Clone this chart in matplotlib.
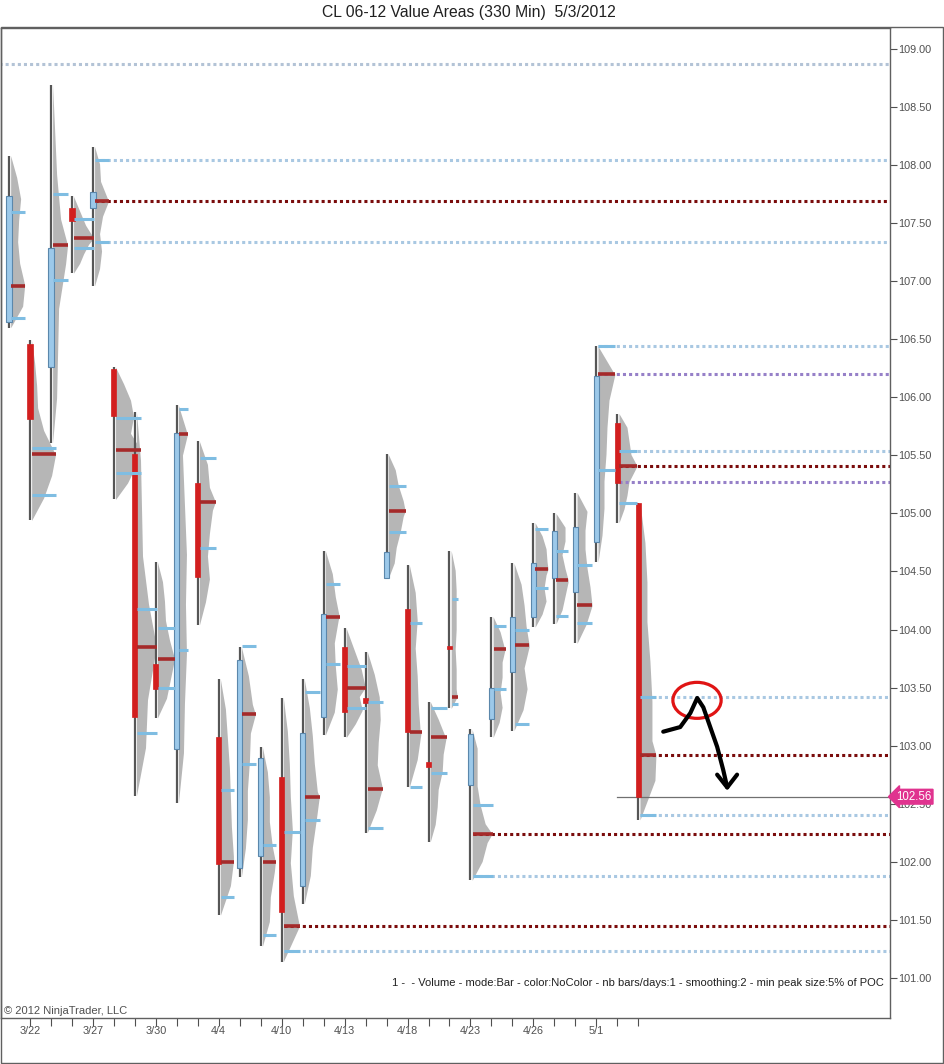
import numpy as np
import matplotlib
matplotlib.use("Agg")
import matplotlib.pyplot as plt
from matplotlib.patches import Ellipse, Rectangle
import matplotlib.transforms as mtransforms

plt.rcParams['font.family'] = ['Liberation Sans', 'DejaVu Sans']

# one 330-min "day" per bar
dates = ['3/21', '3/22', '3/23', '3/26', '3/27', '3/28', '3/29', '3/30', '4/2', '4/3',
         '4/4', '4/5', '4/9', '4/10', '4/11', '4/12', '4/13', '4/16', '4/17', '4/18',
         '4/19', '4/20', '4/23', '4/24', '4/25', '4/26', '4/27', '4/30', '5/1', '5/2', '5/3']

highs = [108.08, 106.49, 108.69, 107.73, 108.16, 106.26, 105.87, 104.58, 105.93, 105.62,
         103.57, 103.85, 102.99, 103.41, 103.57, 104.68, 104.01, 103.81, 105.51, 104.56,
         103.38, 104.68, 103.14, 104.11, 104.57, 104.92, 105.00, 105.18, 106.44, 105.86, 105.09]
lows = [106.60, 104.94, 105.61, 107.07, 106.96, 105.12, 102.57, 103.24, 102.51, 104.04,
        101.54, 101.87, 101.27, 101.14, 101.64, 103.09, 103.07, 102.25, 104.44, 102.64,
        102.17, 103.32, 101.84, 103.07, 103.13, 104.02, 104.05, 103.88, 104.58, 104.92, 102.36]
opens = [106.65, 106.46, 106.26, 107.63, 107.63, 106.24, 105.51, 103.70, 102.97, 105.26,
         103.07, 101.95, 102.05, 102.73, 101.79, 103.25, 103.85, 103.41, 104.44, 104.18,
         102.86, 103.86, 102.66, 103.23, 103.63, 104.11, 104.44, 104.32, 104.75, 105.78, 105.09]
closes = [107.73, 105.81, 107.29, 107.52, 107.77, 105.84, 103.25, 103.49, 105.69, 104.45,
          101.98, 103.74, 102.89, 101.57, 103.11, 104.13, 103.29, 103.37, 104.67, 103.12,
          102.82, 103.83, 103.10, 103.50, 104.11, 104.57, 104.85, 104.88, 106.18, 105.26, 102.56]

poc = [106.96, 105.51, 107.31, 107.37, 107.69, 105.55, 103.85, 103.75, 105.68, 105.10,
       102.00, 103.27, 102.00, 101.45, 102.56, 104.11, 103.50, 102.63, 105.02, 103.12,
       103.07, 103.42, 102.24, 103.83, 103.87, 104.52, 104.43, 104.21, 106.20, 105.41, 102.92]
vah = [107.60, 105.56, 107.75, 107.54, 108.04, 105.82, 104.18, 104.01, 105.90, 105.48,
       102.62, 103.86, 102.14, 102.26, 103.46, 104.39, 103.69, 103.38, 105.24, 104.06,
       103.32, 104.26, 102.49, 104.03, 104.00, 104.87, 104.68, 104.56, 106.44, 105.54, 103.42]
val = [106.68, 105.16, 107.01, 107.29, 107.34, 105.35, 103.11, 103.50, 103.82, 104.70,
       101.70, 102.84, 101.37, 101.23, 102.36, 103.70, 103.32, 102.29, 104.84, 102.64,
       102.76, 103.36, 101.88, 103.49, 103.19, 104.36, 104.12, 104.06, 105.37, 105.09, 102.40]

# volume profile: width (px) at the POC, and at 9 even steps from high down to low
poc_w = [14, 24, 15, 20, 14, 25, 20, 17, 9, 16, 13, 14, 13, 16, 15, 14, 19, 15, 17, 12,
         16, 6, 20, 12, 15, 13, 12, 15, 17, 18, 16]
profile_w = [
    [0, 6, 10, 8, 7, 9, 14, 12, 0], [0, 3, 5, 6, 12, 23, 20, 12, 0],
    [0, 2, 4, 8, 13, 6, 5, 4, 0], [0, 4, 8, 12, 18, 15, 10, 6, 0],
    [0, 5, 6, 13, 8, 5, 7, 5, 0], [0, 8, 15, 18, 15, 24, 20, 12, 0],
    [0, 4, 5, 6, 12, 19, 11, 9, 0], [0, 5, 7, 8, 12, 17, 13, 9, 0],
    [0, 4, 6, 8, 7, 8, 6, 5, 0], [0, 8, 10, 13, 10, 8, 10, 6, 0],
    [0, 5, 7, 9, 10, 11, 13, 10, 0], [0, 7, 11, 9, 8, 6, 6, 4, 0],
    [0, 5, 7, 7, 10, 12, 8, 7, 0], [0, 4, 6, 7, 9, 7, 10, 15, 0],
    [0, 5, 8, 10, 13, 12, 8, 6, 0], [0, 7, 10, 13, 9, 10, 12, 9, 0],
    [0, 5, 10, 15, 18, 13, 16, 9, 0], [0, 7, 12, 13, 11, 10, 15, 9, 0],
    [0, 7, 10, 15, 15, 12, 8, 6, 0], [0, 6, 8, 6, 8, 9, 11, 8, 0],
    [0, 8, 15, 13, 12, 8, 7, 5, 0], [0, 4, 5, 5, 5, 4, 5, 5, 0],
    [0, 5, 5, 5, 8, 13, 15, 10, 0], [0, 7, 11, 9, 9, 7, 9, 6, 0],
    [0, 7, 10, 12, 15, 10, 13, 9, 0], [0, 7, 11, 12, 11, 9, 11, 7, 0],
    [0, 9, 9, 6, 9, 12, 9, 6, 0], [0, 10, 8, 8, 10, 13, 15, 9, 0],
    [0, 16, 11, 9, 8, 6, 6, 4, 0], [0, 8, 10, 12, 17, 10, 8, 5, 0],
    [0, 5, 7, 7, 10, 12, 12, 15, 0],
]

# untested levels extended to the right edge: (price, first bar, kind)
ext_price = [108.87, 108.04, 107.69, 107.34, 106.44, 106.20, 105.54, 105.41, 105.27,
             103.42, 102.92, 102.40, 102.24, 101.88, 101.45, 101.23]
ext_start = [-1, 4, 4, 4, 28, 28, 29, 29, 29, 30, 30, 30, 22, 22, 13, 13]
ext_kind = ['va0', 'va', 'poc', 'va', 'va', 'pur', 'va', 'poc', 'pur',
            'va', 'poc', 'va', 'poc', 'va', 'poc', 'va']

last_price = 102.56
last_from = 29

# hand drawn note
note_x = [31.19, 32.0, 32.48, 32.81, 33.10, 33.43, 33.76, 34.05, 34.24]
note_y = [103.12, 103.16, 103.28, 103.41, 103.33, 103.16, 102.99, 102.79, 102.64]
head_x = [33.76, 34.24, 34.71]
head_y = [102.75, 102.64, 102.75]

PX = 1 / 21.0  # one screen pixel in bar units
ext_colors = {'va0': '#b3c3d6', 'va': '#a9c8e2', 'poc': '#7a0c0c', 'pur': '#9680c8'}

fig = plt.figure(figsize=(9.44, 10.64), dpi=100)
ax = fig.add_axes([1 / 944, 46 / 1064, 889 / 944, 990 / 1064])

n = len(highs)
xs = np.arange(n)

# volume profiles
for i in range(n):
    lv = list(np.linspace(highs[i], lows[i], 9))
    wv = list(profile_w[i])
    lv.append(poc[i])
    wv.append(poc_w[i])
    order = np.argsort(lv)
    lv = np.array(lv)[order]
    wv = np.array(wv, dtype=float)[order]
    x0 = xs[i] + 0.08
    ax.fill_betweenx(lv, x0, x0 + wv * PX, color='#b6b6b6', lw=0, zorder=1)

# long dotted levels
for p, s, k in zip(ext_price, ext_start, ext_kind):
    ax.plot([s + 0.1, 45], [p, p], color=ext_colors[k], lw=2.2,
            linestyle=(0, (1, 1)), zorder=2)

# wicks and bodies
ax.vlines(xs, lows, highs, color='#565656', lw=1.6, zorder=3)
for i in range(n):
    lo, hi = min(opens[i], closes[i]), max(opens[i], closes[i])
    if closes[i] >= opens[i]:
        ax.bar(xs[i], hi - lo, bottom=lo, width=0.25, color='#9cc9ea',
               edgecolor='#5b87ab', lw=0.8, zorder=4)
    else:
        ax.bar(xs[i], hi - lo, bottom=lo, width=0.25, color='#d21f1f',
               edgecolor='#d21f1f', lw=0.5, zorder=4)

# value area and point of control marks
for i in range(n):
    x0 = xs[i] + 0.1
    x1 = x0 + poc_w[i] * PX
    ax.plot([x0, x1], [vah[i], vah[i]], color='#7fbde2', lw=2.2,
            solid_capstyle='butt', zorder=5)
    ax.plot([x0, x1], [val[i], val[i]], color='#7fbde2', lw=2.2,
            solid_capstyle='butt', zorder=5)
    ax.plot([x0, x1], [poc[i], poc[i]], color='#a52a2a', lw=2.6,
            solid_capstyle='butt', zorder=6)

# last price line
ax.plot([last_from, 45], [last_price, last_price], color='#707070', lw=0.9, zorder=2)

# annotation
ax.add_patch(Ellipse((32.8, 103.39), 2.3, 0.31, fill=False, ec='#e01414', lw=2.3, zorder=8))
ax.plot(note_x, note_y, color='black', lw=3, solid_capstyle='round',
        solid_joinstyle='round', zorder=9)
ax.plot(head_x, head_y, color='black', lw=3, solid_capstyle='round',
        solid_joinstyle='round', zorder=9)

ax.set_xlim(-0.38, 42.0)
ax.set_ylim(100.654, 109.181)

# axes styling
ax.yaxis.tick_right()
yt = np.arange(101.0, 109.01, 0.5)
ax.set_yticks(yt)
ax.set_yticklabels(['%.2f' % v for v in yt])
ax.tick_params(axis='y', direction='out', length=5, width=0.8, colors='#505050',
               labelsize=7.8, pad=1)
ax.set_xticks(xs[1:])
ax.set_xticklabels([d if (i - 1) % 3 == 0 else '' for i, d in enumerate(dates)][1:])
ax.tick_params(axis='x', direction='out', length=6, width=0.8, colors='#505050',
               labelsize=7.8, pad=0)
for sp in ax.spines.values():
    sp.set_color('#606060')
    sp.set_linewidth(1.0)

tr = mtransforms.blended_transform_factory(ax.transAxes, ax.transData)
ax.text(1.007, last_price, '%.2f' % last_price, transform=tr, ha='left', va='center',
        fontsize=8.3, color='white', zorder=10, clip_on=False,
        bbox=dict(boxstyle='larrow,pad=0.12', fc='#e0338f', ec='#e0338f'))

ax.text(0.993, 0.035, '1 -  - Volume - mode:Bar - color:NoColor - nb bars/days:1 - '
        'smoothing:2 - min peak size:5% of POC', transform=ax.transAxes,
        ha='right', va='center', fontsize=8.0, color='#202020')
ax.text(0.003, 0.007, '\u00a9 2012 NinjaTrader, LLC', transform=ax.transAxes,
        ha='left', va='center', fontsize=8.0, color='#505050')

fig.text(0.497, 1 - 13 / 1064, 'CL 06-12 Value Areas (330 Min)  5/3/2012',
         ha='center', va='center', fontsize=11.3, color='#202020')

# outer frame of the chart window
fig.add_artist(Rectangle((0.5 / 944, 0.8 / 1064), 942.5 / 944, (1064 - 27.5) / 1064,
                         transform=fig.transFigure, fill=False, ec='#606060', lw=1.0))

fig.savefig('out.png', dpi=100)
